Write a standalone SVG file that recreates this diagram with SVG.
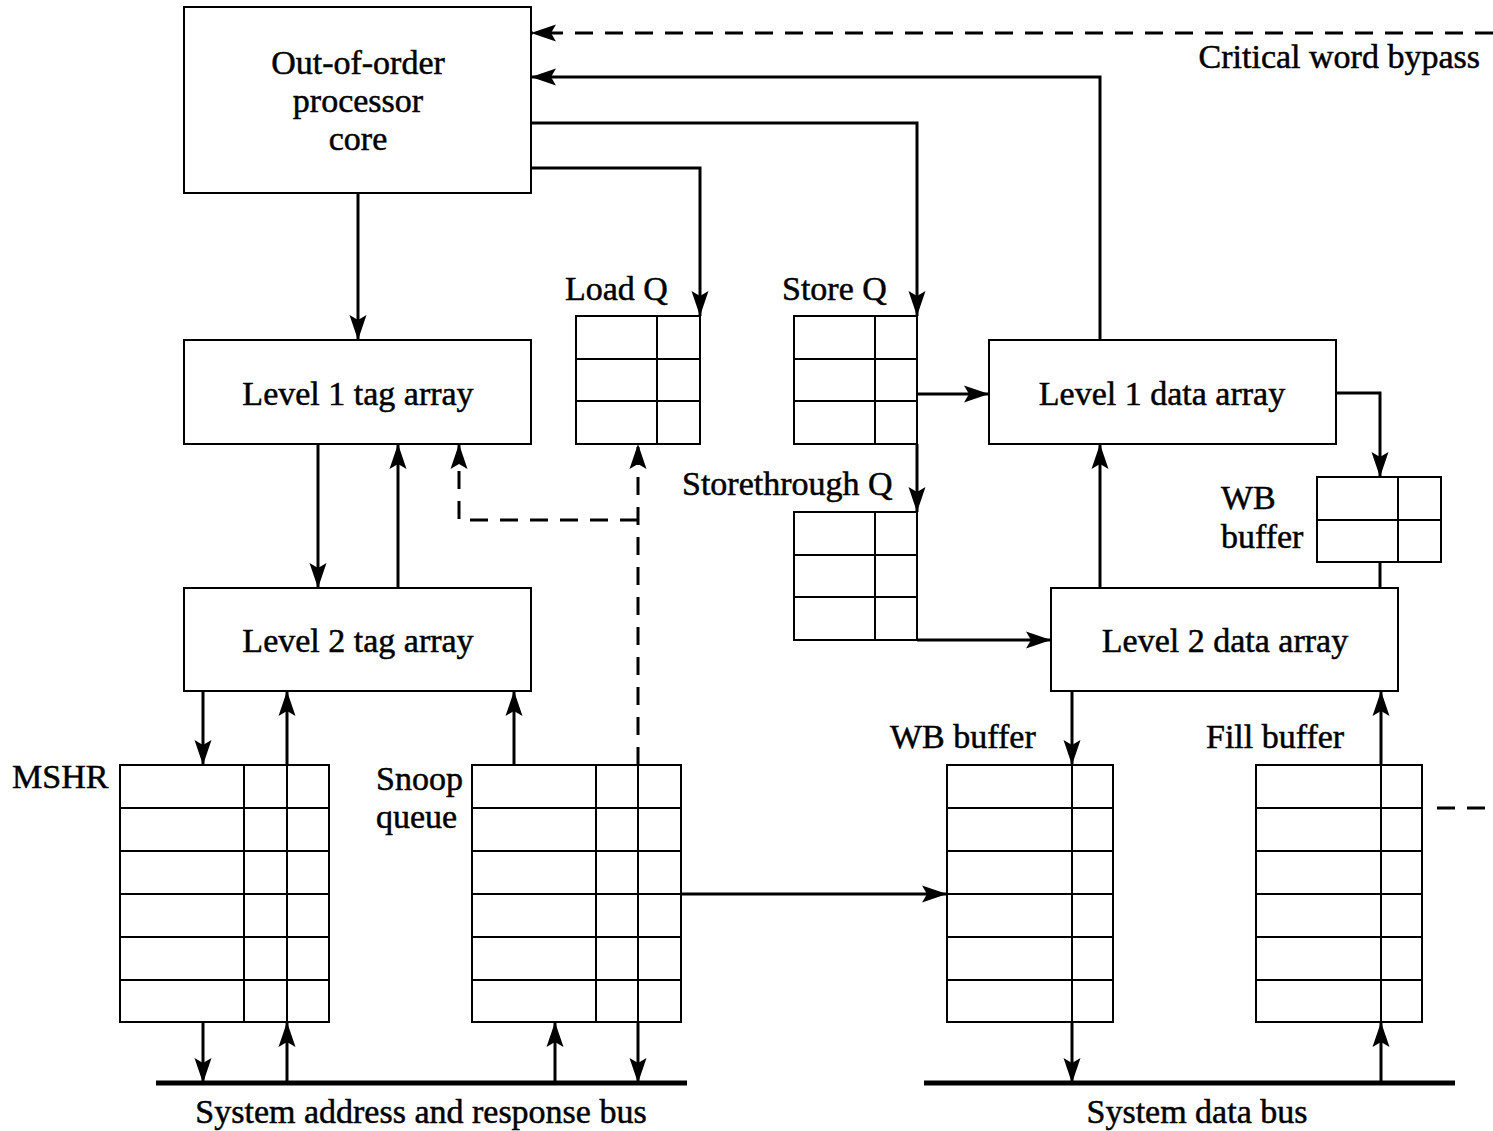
<svg xmlns="http://www.w3.org/2000/svg" width="1493" height="1131" viewBox="0 0 1493 1131">
<style>
.box{fill:#fff;stroke:#000;stroke-width:2}
.grid{fill:none;stroke:#000;stroke-width:2}
.t{font-family:"Liberation Serif","Times New Roman",serif;font-size:34px;fill:#000;stroke:#000;stroke-width:0.5}
.c{text-anchor:middle}
.e{text-anchor:end}
.w{fill:none;stroke:#000;stroke-width:3}
.d{fill:none;stroke:#000;stroke-width:3;stroke-dasharray:18 12}
.a{marker-end:url(#arr)}
.bus{fill:none;stroke:#000;stroke-width:5}
</style>
<defs>
<marker id="arr" markerUnits="userSpaceOnUse" viewBox="-26 -10 28 20" refX="0" refY="0" markerWidth="28" markerHeight="20" orient="auto">
<path d="M0,0 L-25,-8.5 L-20,0 L-25,8.5 Z" fill="#000" stroke="none"/>
</marker>
</defs>
<rect x="0" y="0" width="1493" height="1131" fill="#fff"/>

<g id="core">
<rect class="box" x="184" y="7" width="347" height="186"/>
<text class="t c" x="358" y="74">Out-of-order</text>
<text class="t c" x="358" y="112">processor</text>
<text class="t c" x="358" y="150">core</text>
</g>
<g id="l1-tag">
<rect class="box" x="184" y="340" width="347" height="104"/>
<text class="t c" x="358" y="405">Level 1 tag array</text>
</g>
<g id="l2-tag">
<rect class="box" x="184" y="588" width="347" height="103"/>
<text class="t c" x="358" y="652">Level 2 tag array</text>
</g>
<g id="l1-data">
<rect class="box" x="989" y="340" width="347" height="104"/>
<text class="t c" x="1162" y="405">Level 1 data array</text>
</g>
<g id="l2-data">
<rect class="box" x="1051" y="588" width="347" height="103"/>
<text class="t c" x="1225" y="652">Level 2 data array</text>
</g>
<g id="load-q">
<rect class="box" x="576" y="316" width="124" height="128"/>
<path class="grid" d="M576,359H700M576,401H700M657,316V444"/>
<text class="t" x="565" y="300">Load Q</text>
</g>
<g id="store-q">
<rect class="box" x="794" y="316" width="123" height="128"/>
<path class="grid" d="M794,359H917M794,401H917M875,316V444"/>
<text class="t" x="782" y="300">Store Q</text>
</g>
<g id="storethrough-q">
<rect class="box" x="794" y="512" width="123" height="128"/>
<path class="grid" d="M794,555H917M794,597H917M875,512V640"/>
<text class="t" x="682" y="495">Storethrough Q</text>
</g>
<g id="wb-small">
<rect class="box" x="1317" y="477" width="124" height="85"/>
<path class="grid" d="M1317,520H1441M1398,477V562"/>
<text class="t" x="1221" y="509">WB</text>
<text class="t" x="1221" y="548">buffer</text>
</g>
<g id="mshr">
<rect class="box" x="120" y="765" width="209" height="257"/>
<path class="grid" d="M120,808H329M120,851H329M120,894H329M120,937H329M120,980H329M244,765V1022M287,765V1022"/>
<text class="t" x="12" y="788">MSHR</text>
</g>
<g id="snoop-queue">
<rect class="box" x="472" y="765" width="209" height="257"/>
<path class="grid" d="M472,808H681M472,851H681M472,894H681M472,937H681M472,980H681M596,765V1022M638,765V1022"/>
<text class="t" x="376" y="790">Snoop</text>
<text class="t" x="376" y="828">queue</text>
</g>
<g id="wb-buffer">
<rect class="box" x="947" y="765" width="166" height="257"/>
<path class="grid" d="M947,808H1113M947,851H1113M947,894H1113M947,937H1113M947,980H1113M1072,765V1022"/>
<text class="t" x="890" y="748">WB buffer</text>
</g>
<g id="fill-buffer">
<rect class="box" x="1256" y="765" width="166" height="257"/>
<path class="grid" d="M1256,808H1422M1256,851H1422M1256,894H1422M1256,937H1422M1256,980H1422M1381,765V1022"/>
<text class="t" x="1206" y="748">Fill buffer</text>
</g>
<g id="addr-bus">
<path class="bus" d="M156,1083H687"/>
<text class="t c" x="421" y="1123">System address and response bus</text>
</g>
<g id="data-bus">
<path class="bus" d="M924,1083H1455"/>
<text class="t c" x="1197" y="1123">System data bus</text>
</g>
<g id="bypass-label">
<text class="t e" x="1480" y="68">Critical word bypass</text>
</g>

<g id="connectors">
<path class="w a" d="M358,193V340"/>
<path class="w a" d="M531,168H700V316"/>
<path class="w a" d="M531,123H917V316"/>
<path class="w a" d="M917,444V512"/>
<path class="w a" d="M917,394H989"/>
<path class="w a" d="M917,640H1051"/>
<path class="w a" d="M1100,340V77H531"/>
<path class="d a" d="M1493,33H531"/>
<path class="w a" d="M1336,393H1380V477"/>
<path class="w" d="M1380,562V588"/>
<path class="w a" d="M1100,588V444"/>
<path class="w a" d="M1072,691V765"/>
<path class="w a" d="M1072,1022V1083"/>
<path class="w a" d="M1381,1083V1022"/>
<path class="w a" d="M1381,765V691"/>
<path class="d" d="M1437,808H1493"/>
<path class="w a" d="M681,894H947"/>
<path class="w a" d="M318,444V588"/>
<path class="w a" d="M398,588V444"/>
<path class="w a" d="M203,691V765"/>
<path class="w a" d="M287,765V691"/>
<path class="w a" d="M287,1083V1022"/>
<path class="w a" d="M203,1022V1083"/>
<path class="w a" d="M514,765V691"/>
<path class="w a" d="M555,1083V1022"/>
<path class="w a" d="M638,1022V1083"/>
<path class="d a" d="M638,765V444"/>
<path class="d a" d="M638,520H459V444"/>
</g>
</svg>
